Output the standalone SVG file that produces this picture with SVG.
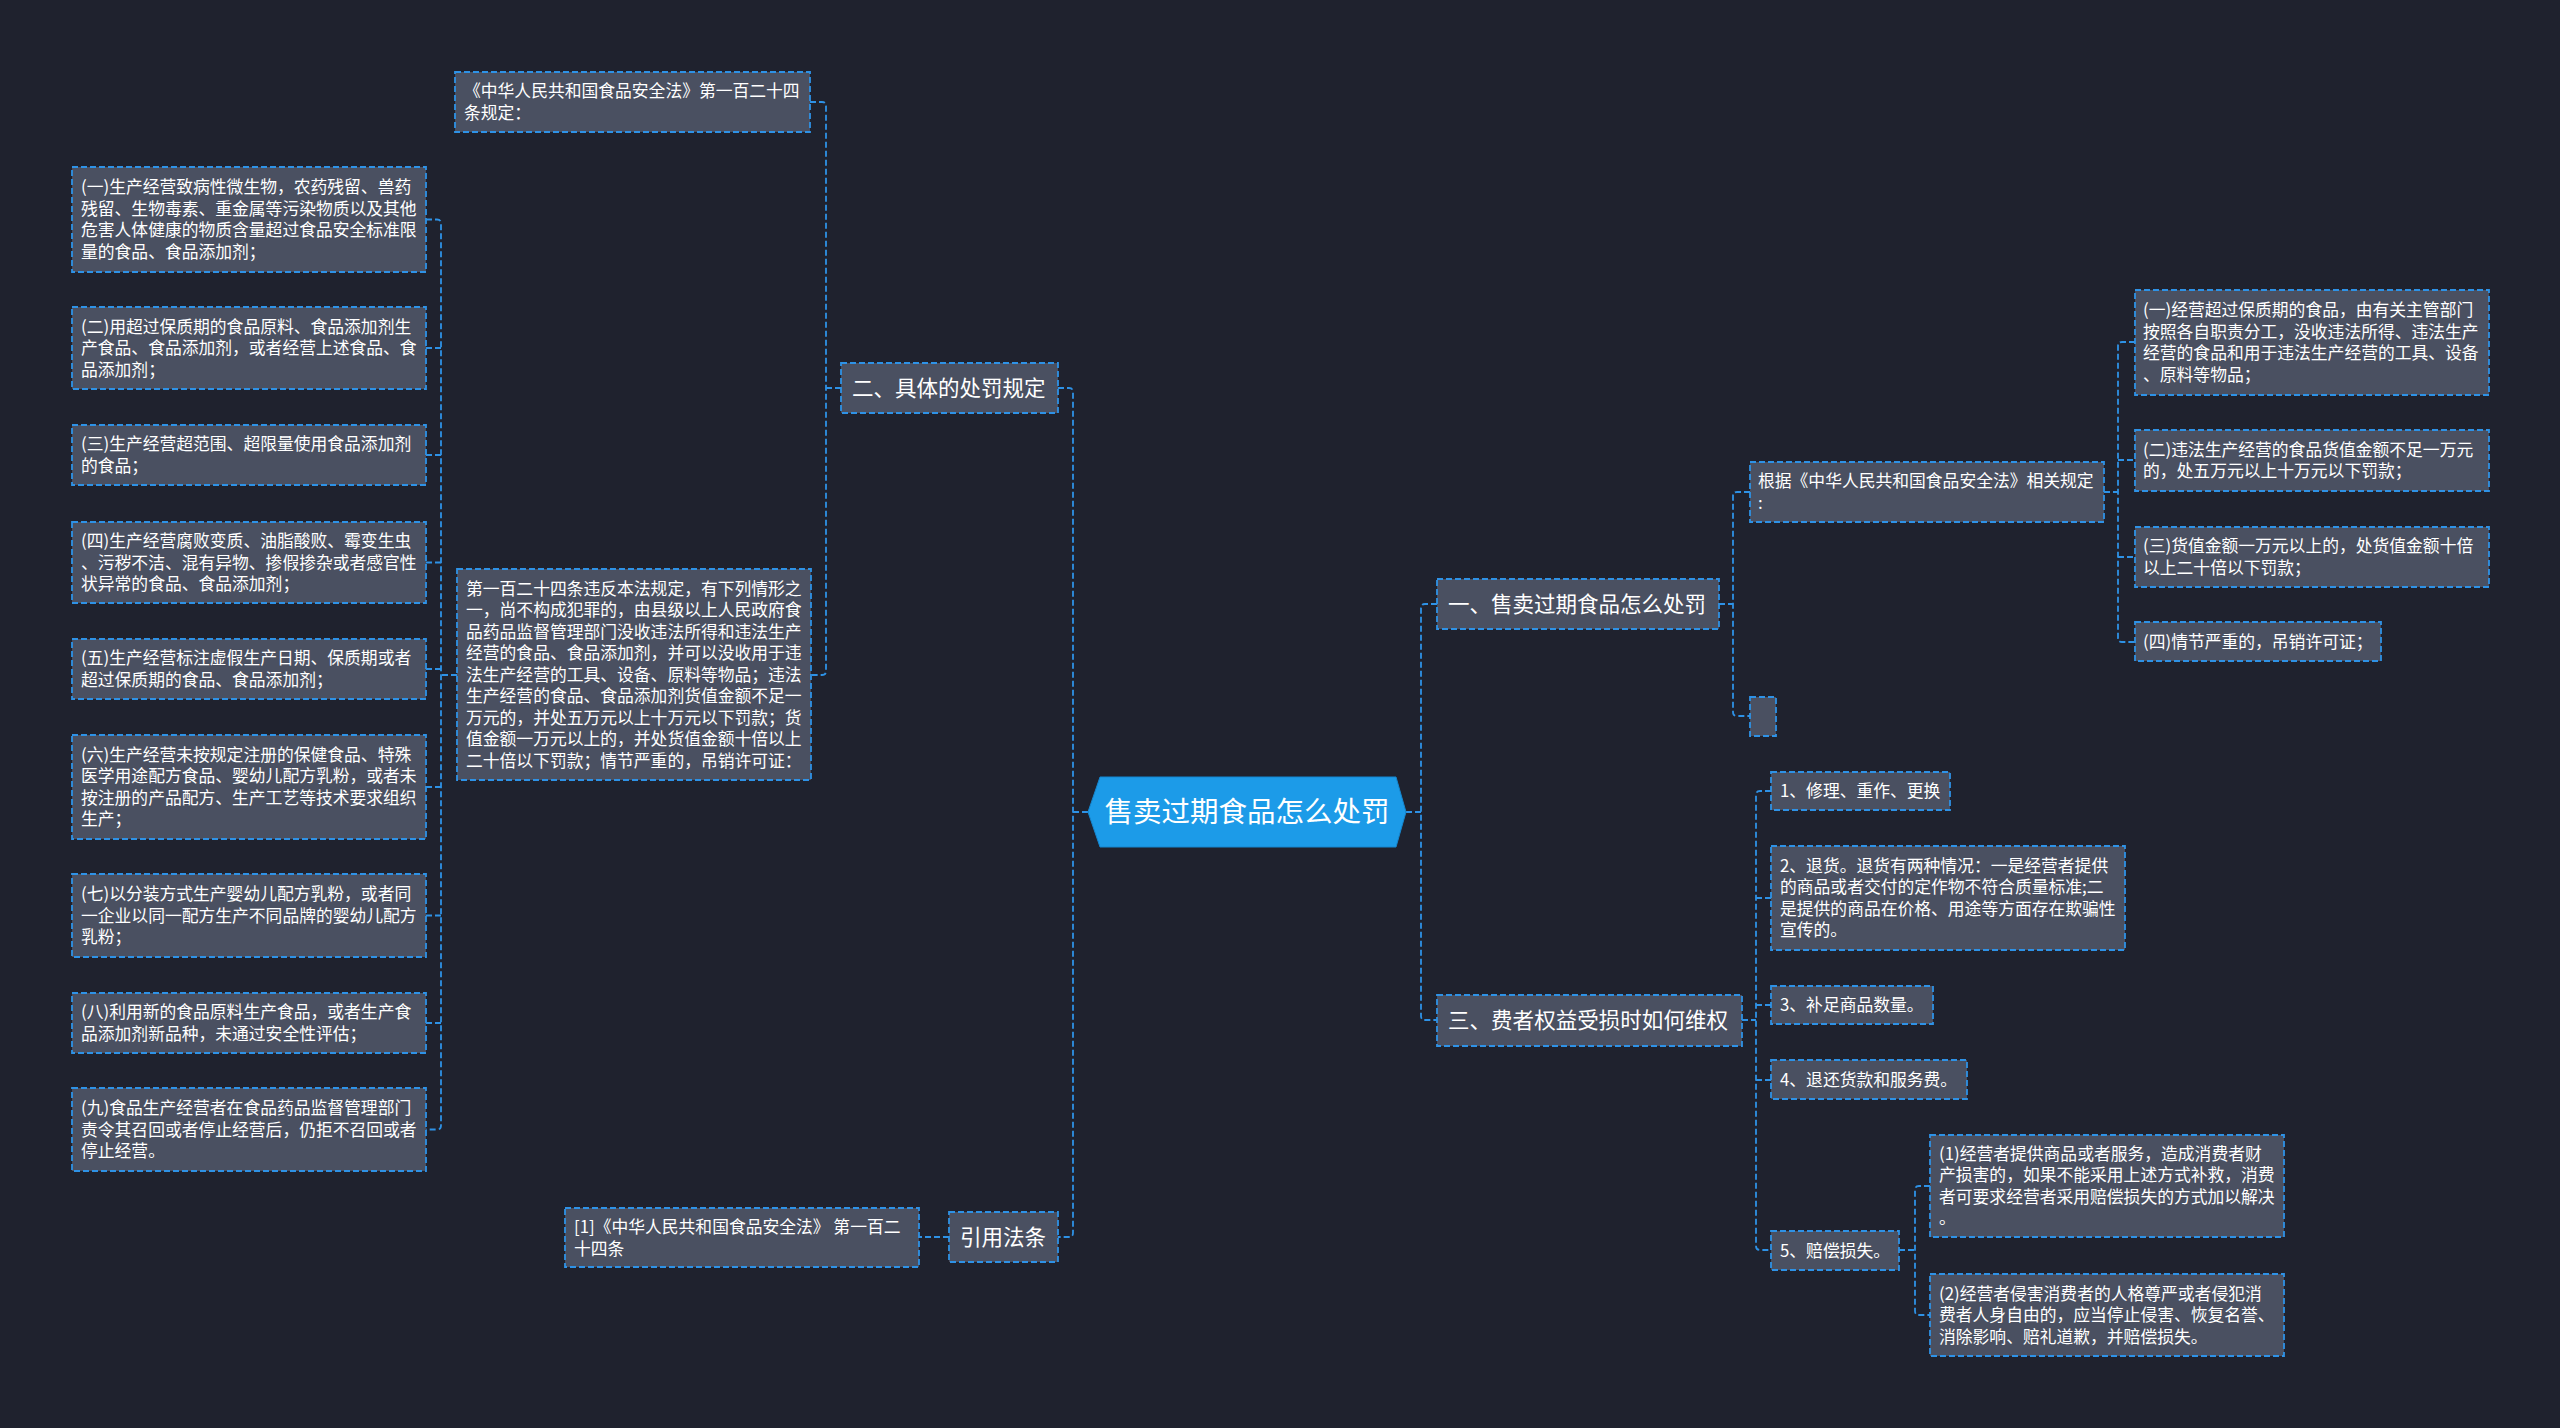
<svg xmlns="http://www.w3.org/2000/svg" width="2560" height="1428" viewBox="0 0 2560 1428">
<style>
.bg{fill:#1f222e}
.box{fill:#4a5061;stroke:#2e92e6;stroke-width:1.8;stroke-dasharray:6 3}
.c{fill:none;stroke:#2e92e6;stroke-width:1.8;stroke-dasharray:6 3}
.t{font-family:"Noto Sans CJK SC","Noto Sans",sans-serif;font-size:16.8px;fill:#ffffff}
.b{font-family:"Noto Sans CJK SC","Noto Sans",sans-serif;font-size:21.5px;fill:#ffffff}
.r{font-family:"Noto Sans CJK SC","Noto Sans",sans-serif;font-size:28.5px;fill:#ffffff;text-anchor:middle}
</style>
<rect class="bg" x="0" y="0" width="2560" height="1428"/>

<g id="connectors">
<path class="c" d="M1406,812 H1421"/>
<path class="c" d="M1437,604 H1425 Q1421,604 1421,608 V1016 Q1421,1020 1425,1020 H1437"/>
<path class="c" d="M1088,812 H1073"/>
<path class="c" d="M1058,388 H1069 Q1073,388 1073,392 V1233 Q1073,1237 1069,1237 H1058"/>
<path class="c" d="M841,388 H826"/>
<path class="c" d="M810,102 H822 Q826,102 826,106 V671 Q826,675 822,675 H811"/>
<path class="c" d="M457,675 H441"/>
<path class="c" d="M426,219.5 H437 Q441,219.5 441,223.5 V1125.5 Q441,1129.5 437,1129.5 H426"/>
<path class="c" d="M426,348 H441 M426,455 H441 M426,562.5 H441 M426,669 H441 M426,787 H441 M426,915.5 H441 M426,1023 H441"/>
<path class="c" d="M949,1237 H919"/>
<path class="c" d="M1719,604 H1733"/>
<path class="c" d="M1750,492 H1737 Q1733,492 1733,496 V712 Q1733,716 1737,716 H1750"/>
<path class="c" d="M2104,492 H2118"/>
<path class="c" d="M2135,342 H2122 Q2118,342 2118,346 V638 Q2118,642 2122,642 H2135"/>
<path class="c" d="M2118,460 H2135 M2118,557 H2135"/>
<path class="c" d="M1742,1020 H1756"/>
<path class="c" d="M1771,791 H1760 Q1756,791 1756,795 V1246 Q1756,1250 1760,1250 H1771"/>
<path class="c" d="M1756,898 H1771 M1756,1005 H1771 M1756,1080 H1771"/>
<path class="c" d="M1899,1250 H1915"/>
<path class="c" d="M1930,1186 H1919 Q1915,1186 1915,1190 V1311 Q1915,1315 1919,1315 H1930"/>
</g>

<g id="root">
<polygon points="1088,812 1100,777 1396,777 1406,812 1396,847 1100,847" fill="#1c9be8" stroke="#1587d0" stroke-width="1"/>
<text class="r" x="1247" y="822">售卖过期食品怎么处罚</text>
</g>

<g id="n-b2">
<rect class="box" x="841" y="363" width="217" height="50"/>
<text class="b" x="852" y="395.5">二、具体的处罚规定</text>
</g>

<g id="n-top">
<rect class="box" x="455" y="72" width="355" height="60"/>
<text class="t"><tspan x="464" y="97.3">《中华人民共和国食品安全法》第一百二十四</tspan><tspan x="464" y="118.8">条规定：</tspan></text>
</g>

<g id="n-mid">
<rect class="box" x="457" y="569" width="354" height="211"/>
<text class="t">
<tspan x="466" y="594.5">第一百二十四条违反本法规定，有下列情形之</tspan>
<tspan x="466" y="616">一，尚不构成犯罪的，由县级以上人民政府食</tspan>
<tspan x="466" y="637.5">品药品监督管理部门没收违法所得和违法生产</tspan>
<tspan x="466" y="659">经营的食品、食品添加剂，并可以没收用于违</tspan>
<tspan x="466" y="680.5">法生产经营的工具、设备、原料等物品；违法</tspan>
<tspan x="466" y="702">生产经营的食品、食品添加剂货值金额不足一</tspan>
<tspan x="466" y="723.5">万元的，并处五万元以上十万元以下罚款；货</tspan>
<tspan x="466" y="745">值金额一万元以上的，并处货值金额十倍以上</tspan>
<tspan x="466" y="766.5">二十倍以下罚款；情节严重的，吊销许可证：</tspan>
</text>
</g>

<g id="n-l1">
<rect class="box" x="72" y="167" width="354" height="105"/>
<text class="t"><tspan x="81" y="193.3">(一)生产经营致病性微生物，农药残留、兽药</tspan><tspan x="81" y="214.8">残留、生物毒素、重金属等污染物质以及其他</tspan><tspan x="81" y="236.3">危害人体健康的物质含量超过食品安全标准限</tspan><tspan x="81" y="257.8">量的食品、食品添加剂；</tspan></text>
</g>
<g id="n-l2">
<rect class="box" x="72" y="307" width="354" height="82"/>
<text class="t"><tspan x="81" y="332.5">(二)用超过保质期的食品原料、食品添加剂生</tspan><tspan x="81" y="354">产食品、食品添加剂，或者经营上述食品、食</tspan><tspan x="81" y="375.5">品添加剂；</tspan></text>
</g>
<g id="n-l3">
<rect class="box" x="72" y="425" width="354" height="60"/>
<text class="t"><tspan x="81" y="450.3">(三)生产经营超范围、超限量使用食品添加剂</tspan><tspan x="81" y="471.8">的食品；</tspan></text>
</g>
<g id="n-l4">
<rect class="box" x="72" y="522" width="354" height="81"/>
<text class="t"><tspan x="81" y="547">(四)生产经营腐败变质、油脂酸败、霉变生虫</tspan><tspan x="81" y="568.5">、污秽不洁、混有异物、掺假掺杂或者感官性</tspan><tspan x="81" y="590">状异常的食品、食品添加剂；</tspan></text>
</g>
<g id="n-l5">
<rect class="box" x="72" y="639" width="354" height="60"/>
<text class="t"><tspan x="81" y="664.3">(五)生产经营标注虚假生产日期、保质期或者</tspan><tspan x="81" y="685.8">超过保质期的食品、食品添加剂；</tspan></text>
</g>
<g id="n-l6">
<rect class="box" x="72" y="735" width="354" height="104"/>
<text class="t"><tspan x="81" y="760.8">(六)生产经营未按规定注册的保健食品、特殊</tspan><tspan x="81" y="782.3">医学用途配方食品、婴幼儿配方乳粉，或者未</tspan><tspan x="81" y="803.8">按注册的产品配方、生产工艺等技术要求组织</tspan><tspan x="81" y="825.3">生产；</tspan></text>
</g>
<g id="n-l7">
<rect class="box" x="72" y="874" width="354" height="83"/>
<text class="t"><tspan x="81" y="900">(七)以分装方式生产婴幼儿配方乳粉，或者同</tspan><tspan x="81" y="921.5">一企业以同一配方生产不同品牌的婴幼儿配方</tspan><tspan x="81" y="943">乳粉；</tspan></text>
</g>
<g id="n-l8">
<rect class="box" x="72" y="993" width="354" height="60"/>
<text class="t"><tspan x="81" y="1018.3">(八)利用新的食品原料生产食品，或者生产食</tspan><tspan x="81" y="1039.8">品添加剂新品种，未通过安全性评估；</tspan></text>
</g>
<g id="n-l9">
<rect class="box" x="72" y="1088" width="354" height="83"/>
<text class="t"><tspan x="81" y="1114">(九)食品生产经营者在食品药品监督管理部门</tspan><tspan x="81" y="1135.5">责令其召回或者停止经营后，仍拒不召回或者</tspan><tspan x="81" y="1157">停止经营。</tspan></text>
</g>

<g id="n-cite">
<rect class="box" x="949" y="1212" width="109" height="50"/>
<text class="b" x="960" y="1244.5">引用法条</text>
</g>
<g id="n-cite1">
<rect class="box" x="565" y="1208" width="354" height="59"/>
<text class="t"><tspan x="574" y="1233">[1]《中华人民共和国食品安全法》 第一百二</tspan><tspan x="574" y="1254.5">十四条</tspan></text>
</g>

<g id="n-b1">
<rect class="box" x="1437" y="579" width="282" height="50"/>
<text class="b" x="1448" y="611.5">一、售卖过期食品怎么处罚</text>
</g>
<g id="n-basis">
<rect class="box" x="1750" y="462" width="354" height="60"/>
<text class="t"><tspan x="1758" y="487.3">根据《中华人民共和国食品安全法》相关规定</tspan><tspan x="1758" y="508.8">:</tspan></text>
</g>
<g id="n-empty">
<rect class="box" x="1750" y="697" width="26" height="39"/>
</g>
<g id="n-r1">
<rect class="box" x="2135" y="290" width="354" height="105"/>
<text class="t"><tspan x="2143" y="316.3">(一)经营超过保质期的食品，由有关主管部门</tspan><tspan x="2143" y="337.8">按照各自职责分工，没收违法所得、违法生产</tspan><tspan x="2143" y="359.3">经营的食品和用于违法生产经营的工具、设备</tspan><tspan x="2143" y="380.8">、原料等物品；</tspan></text>
</g>
<g id="n-r2">
<rect class="box" x="2135" y="430" width="354" height="61"/>
<text class="t"><tspan x="2143" y="455.8">(二)违法生产经营的食品货值金额不足一万元</tspan><tspan x="2143" y="477.3">的，处五万元以上十万元以下罚款；</tspan></text>
</g>
<g id="n-r3">
<rect class="box" x="2135" y="527" width="354" height="60"/>
<text class="t"><tspan x="2143" y="552.3">(三)货值金额一万元以上的，处货值金额十倍</tspan><tspan x="2143" y="573.8">以上二十倍以下罚款；</tspan></text>
</g>
<g id="n-r4">
<rect class="box" x="2135" y="622" width="246" height="39"/>
<text class="t" x="2143" y="647.5">(四)情节严重的，吊销许可证；</text>
</g>

<g id="n-b3">
<rect class="box" x="1437" y="995" width="305" height="51"/>
<text class="b" x="1448" y="1028" textLength="280" lengthAdjust="spacing">三、费者权益受损时如何维权</text>
</g>
<g id="n-i1">
<rect class="box" x="1771" y="772" width="179" height="38"/>
<text class="t" x="1780" y="797">1、修理、重作、更换</text>
</g>
<g id="n-i2">
<rect class="box" x="1771" y="846" width="354" height="104"/>
<text class="t"><tspan x="1780" y="871.8">2、退货。退货有两种情况：一是经营者提供</tspan><tspan x="1780" y="893.3">的商品或者交付的定作物不符合质量标准;二</tspan><tspan x="1780" y="914.8">是提供的商品在价格、用途等方面存在欺骗性</tspan><tspan x="1780" y="936.3">宣传的。</tspan></text>
</g>
<g id="n-i3">
<rect class="box" x="1771" y="986" width="162" height="38"/>
<text class="t" x="1780" y="1011">3、补足商品数量。</text>
</g>
<g id="n-i4">
<rect class="box" x="1771" y="1060" width="196" height="39"/>
<text class="t" x="1780" y="1085.5">4、退还货款和服务费。</text>
</g>
<g id="n-i5">
<rect class="box" x="1771" y="1231" width="128" height="39"/>
<text class="t" x="1780" y="1256.5">5、赔偿损失。</text>
</g>
<g id="n-s1">
<rect class="box" x="1930" y="1135" width="354" height="102"/>
<text class="t"><tspan x="1939" y="1159.8">(1)经营者提供商品或者服务，造成消费者财</tspan><tspan x="1939" y="1181.3">产损害的，如果不能采用上述方式补救，消费</tspan><tspan x="1939" y="1202.8">者可要求经营者采用赔偿损失的方式加以解决</tspan><tspan x="1939" y="1224.3">。</tspan></text>
</g>
<g id="n-s2">
<rect class="box" x="1930" y="1274" width="354" height="82"/>
<text class="t"><tspan x="1939" y="1299.5">(2)经营者侵害消费者的人格尊严或者侵犯消</tspan><tspan x="1939" y="1321">费者人身自由的，应当停止侵害、恢复名誉、</tspan><tspan x="1939" y="1342.5">消除影响、赔礼道歉，并赔偿损失。</tspan></text>
</g>
</svg>
